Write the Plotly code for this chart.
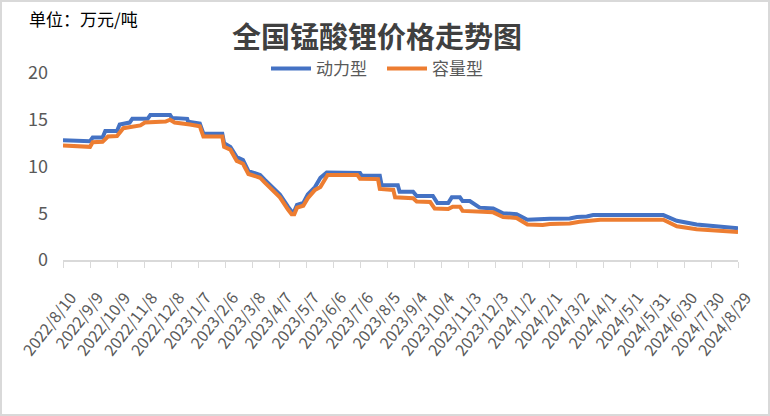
import plotly.graph_objects as go

# ---- data ----
power_dates = ["2022-08-10","2022-08-29","2022-09-03","2022-09-09","2022-09-12","2022-09-23","2022-09-26",
    "2022-10-09","2022-10-12","2022-10-23","2022-10-26","2022-11-12","2022-11-15","2022-12-07","2022-12-09",
    "2022-12-26","2022-12-27","2023-01-09","2023-01-13","2023-02-03","2023-02-05","2023-02-12","2023-02-19",
    "2023-02-26","2023-03-04","2023-03-17","2023-03-22","2023-03-30","2023-04-08","2023-04-17","2023-04-21",
    "2023-04-24","2023-04-27","2023-05-04","2023-05-09","2023-05-17","2023-05-23","2023-05-30","2023-07-06",
    "2023-07-08","2023-07-28","2023-07-30","2023-08-17","2023-08-19","2023-09-03","2023-09-07","2023-09-25",
    "2023-09-30","2023-10-12","2023-10-16","2023-10-25","2023-10-28","2023-11-05","2023-11-16","2023-12-01",
    "2023-12-12","2023-12-27","2024-01-08","2024-01-25","2024-02-02","2024-02-24","2024-03-03","2024-03-14",
    "2024-03-21","2024-06-07","2024-06-22","2024-07-14","2024-08-06","2024-08-29"]
power_values = [12.8,12.8,12.7,12.7,13.1,13.1,13.8,
    13.8,14.5,14.7,15.1,15.1,15.5,15.5,15.2,
    15.1,14.8,14.6,13.5,13.5,12.5,12.1,11.0,
    10.7,9.5,9.1,8.6,7.8,7.0,5.7,5.2,
    5.2,5.9,6.1,7.0,7.8,8.8,9.35,9.3,
    9.0,9.0,8.0,8.0,7.3,7.3,6.85,6.85,
    6.1,6.1,6.7,6.7,6.3,6.3,5.6,5.5,
    5.0,4.9,4.3,4.3,4.4,4.45,4.6,4.65,
    4.8,4.8,4.2,3.8,3.6,3.4]

capacity_dates = ["2022-08-10","2022-08-29","2022-09-09","2022-09-12","2022-09-23","2022-09-29","2022-10-09",
    "2022-10-16","2022-11-04","2022-11-09","2022-12-02","2022-12-07","2022-12-12","2022-12-29","2023-01-09",
    "2023-01-13","2023-02-03","2023-02-05","2023-02-12","2023-02-19","2023-02-26","2023-03-04","2023-03-17",
    "2023-03-22","2023-03-30","2023-04-08","2023-04-17","2023-04-21","2023-04-24","2023-04-27","2023-05-04",
    "2023-05-09","2023-05-17","2023-05-23","2023-05-31","2023-07-03","2023-07-06","2023-07-26","2023-07-28",
    "2023-08-12","2023-08-14","2023-09-03","2023-09-07","2023-09-22","2023-09-27","2023-10-12","2023-10-17",
    "2023-10-25","2023-10-28","2023-11-05","2023-11-16","2023-12-01","2023-12-12","2023-12-27","2024-01-08",
    "2024-01-25","2024-02-02","2024-02-24","2024-03-06","2024-03-18","2024-03-29","2024-06-07","2024-06-22",
    "2024-07-14","2024-08-06","2024-08-29"]
capacity_values = [12.25,12.2,12.1,12.6,12.65,13.2,13.25,
    14.1,14.4,14.7,14.8,15.0,14.7,14.5,14.3,
    13.2,13.2,12.1,11.8,10.6,10.3,9.2,8.8,
    8.3,7.5,6.7,5.4,4.9,4.9,5.6,5.8,
    6.6,7.5,7.8,9.1,9.1,8.7,8.65,7.6,
    7.5,6.7,6.6,6.25,6.2,5.5,5.45,5.7,
    5.7,5.25,5.2,5.2,5.1,4.6,4.5,3.8,
    3.75,3.85,3.9,4.1,4.2,4.3,4.3,3.6,
    3.3,3.2,3.0]

tick_dates = ["2022-08-10","2022-09-09","2022-10-09","2022-11-08","2022-12-08","2023-01-07","2023-02-06",
    "2023-03-08","2023-04-07","2023-05-07","2023-06-06","2023-07-06","2023-08-05","2023-09-04","2023-10-04",
    "2023-11-03","2023-12-03","2024-01-02","2024-02-01","2024-03-02","2024-04-01","2024-05-01","2024-05-31",
    "2024-06-30","2024-07-30","2024-08-29"]
tick_labels = [d.replace("-0", "-").replace("-", "/") for d in tick_dates]

y_ticks = [0, 5, 10, 15, 20]

FONT = "Noto Sans CJK SC"

fig = go.Figure()
fig.add_trace(go.Scatter(x=power_dates, y=power_values, mode="lines", name="动力型",
                         line=dict(color="#4472C4", width=4)))
fig.add_trace(go.Scatter(x=capacity_dates, y=capacity_values, mode="lines", name="容量型",
                         line=dict(color="#ED7D31", width=4)))

L, R, T, B = 63, 32, 73, 156
W, H = 770, 416
pw, ph = W - L - R, H - T - B

def px_x(px):
    return (px - L) / pw

def px_y(py):
    return (H - B - py) / ph

fig.update_layout(
    width=W, height=H,
    margin=dict(l=L, r=R, t=T, b=B, autoexpand=False),
    paper_bgcolor="white", plot_bgcolor="white",
    font=dict(family=FONT, color="#595959"),
    showlegend=True,
    legend=dict(orientation="h", x=px_x(266), xanchor="left", y=px_y(69), yanchor="middle",
                font=dict(size=17, color="#595959", family=FONT), bgcolor="rgba(0,0,0,0)",
                itemwidth=40, entrywidth=61, tracegroupgap=0),
    xaxis=dict(type="date", range=[tick_dates[0], tick_dates[-1]], tickmode="array",
               tickvals=tick_dates, ticktext=tick_labels, tickangle=-52, automargin=False,
               showgrid=False, showline=True, linecolor="#d9d9d9", linewidth=2,
               ticks="outside", ticklen=6, tickcolor="#d9d9d9", tickwidth=1,
               ticklabelstandoff=14, ticklabelshift=8,
               tickfont=dict(size=16, color="#595959", family=FONT), zeroline=False),
    yaxis=dict(range=[0, 20], tickmode="array", tickvals=y_ticks, showgrid=False, automargin=False,
               showline=False, zeroline=False, ticks="",
               tickfont=dict(size=18, color="#595959", family=FONT), ticklabelstandoff=14),
    annotations=[
        dict(text="<b>全国锰酸锂价格走势图</b>", xref="paper", yref="paper", x=px_x(377), y=px_y(35),
             xanchor="center", yanchor="middle", showarrow=False,
             font=dict(size=29, color="#404040", family=FONT)),
        dict(text="单位：万元/吨", xref="paper", yref="paper", x=px_x(27), y=px_y(19),
             xanchor="left", yanchor="middle", showarrow=False,
             font=dict(size=17, color="#000000", family=FONT)),
    ],
    shapes=[
        dict(type="rect", xref="paper", yref="paper", x0=px_x(1), x1=px_x(769), y0=px_y(415), y1=px_y(1),
             line=dict(color="#d9d9d9", width=2), layer="below"),
    ],
)

fig.write_html("out.html", config={"displayModeBar": False},
               post_script="document.body.style.margin='0';document.body.style.overflow='hidden';")
